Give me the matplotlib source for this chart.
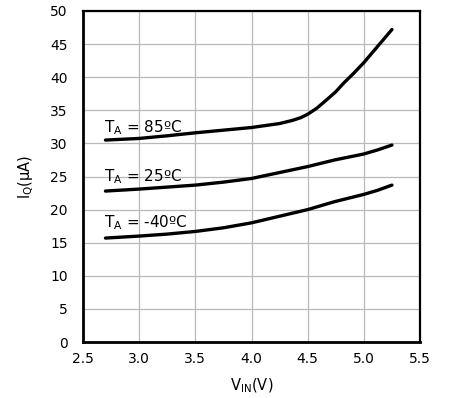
import numpy as np
import matplotlib
matplotlib.use("Agg")
import matplotlib.pyplot as plt

plt.rcParams['font.family'] = 'DejaVu Sans'
plt.rcParams['font.size'] = 10
plt.rcParams['mathtext.default'] = 'regular'

# supply voltage (V) and quiescent current (uA)
vin_85 = [2.7, 3.0, 3.25, 3.5, 3.75, 4.0, 4.25, 4.37, 4.44, 4.5, 4.58, 4.67, 4.75, 4.82, 4.91, 5.0, 5.12, 5.25]
iq_85 = [30.5, 30.75, 31.15, 31.6, 32.0, 32.4, 33.0, 33.5, 33.9, 34.4, 35.3, 36.6, 37.8, 39.1, 40.6, 42.2, 44.6, 47.2]

vin_25 = [2.7, 3.0, 3.25, 3.5, 3.75, 4.0, 4.25, 4.5, 4.74, 5.0, 5.12, 5.25]
iq_25 = [22.8, 23.1, 23.4, 23.7, 24.15, 24.7, 25.6, 26.5, 27.5, 28.4, 29.0, 29.75]

vin_m40 = [2.7, 3.0, 3.25, 3.5, 3.75, 4.0, 4.25, 4.5, 4.74, 5.0, 5.12, 5.25]
iq_m40 = [15.7, 16.0, 16.3, 16.7, 17.25, 18.0, 19.0, 20.0, 21.2, 22.3, 22.9, 23.7]

labels = ["85ºC", "25ºC", "-40ºC"]
label_y = [31.75, 24.3, 17.3]

fig = plt.figure(figsize=(4.62, 3.98), dpi=100)
ax = fig.add_axes([83/462, 1-342/398, 337/462, 331/398])

for v, iq in [(vin_85, iq_85), (vin_25, iq_25), (vin_m40, iq_m40)]:
    ax.plot(v, iq, color="black", lw=2.4, solid_capstyle="round", solid_joinstyle="round")

for lab, yy in zip(labels, label_y):
    ax.text(2.69, yy, r"T$_{A}$ = " + lab, fontsize=11, va="baseline", ha="left")

ax.set_xlim(2.5, 5.5)
ax.set_ylim(0, 50)
xt = np.arange(2.5, 5.51, 0.5)
ax.set_xticks(xt)
ax.set_xticklabels([f"{v:.1f}" for v in xt])
ax.set_yticks(np.arange(0, 51, 5))
ax.grid(True, color="#b8b8b8", lw=0.9)
ax.set_axisbelow(True)
ax.tick_params(axis='y', length=0, pad=11, labelsize=10)
ax.tick_params(axis='x', length=0, pad=7, labelsize=10)
for s in ax.spines.values():
    s.set_linewidth(1.6)
ax.spines['left'].set_linewidth(2)
ax.spines['bottom'].set_linewidth(2)

ax.set_xlabel(r"V$_{IN}$(V)", fontsize=10.5, labelpad=8)
ax.set_ylabel(r"I$_{Q}$(μA)", fontsize=10.5, labelpad=10)

fig.savefig("out.png", dpi=100)
